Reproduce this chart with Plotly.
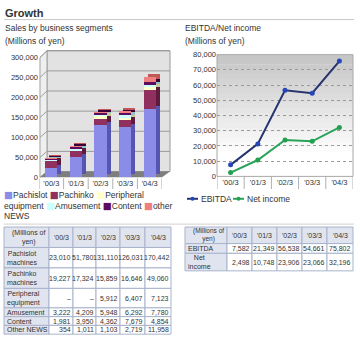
import plotly.graph_objects as go

W, H = 360, 345
def X(p): return p / W
def Y(p): return 1 - p / H

# ---------------- data ----------------
years = ["'00/3", "'01/3", "'02/3", "'03/3", "'04/3"]
seg_names = ["Pachislot", "Pachinko", "Peripheral equipment", "Amusement", "Content", "other NEWS"]
pachislot = [23010, 51780, 131110, 126031, 170442]
pachinko = [19227, 17324, 15859, 16646, 49060]
peripheral = [None, None, 5912, 6407, 7123]
amusement = [3222, 4209, 5948, 6292, 7780]
content = [1981, 3950, 4362, 7679, 4854]
other_news = [354, 1011, 1103, 2719, 11958]
ebitda = [7582, 21349, 56538, 54661, 75802]
net_income = [2498, 10748, 23906, 23066, 32196]
sales_ticks = [0, 50000, 100000, 150000, 200000, 250000, 300000]
profit_ticks = [0, 10000, 20000, 30000, 40000, 50000, 60000, 70000, 80000]
sales_row_labels = ["Pachislot<br>machines", "Pachinko<br>machines", "Peripheral<br>equipment",
                    "Amusement", "Content", "Other NEWS"]
profit_row_labels = ["EBITDA", "Net<br>income"]
unit_label = "(Millions of<br>yen)"

segments = [pachislot, pachinko, peripheral, amusement, content, other_news]
seg_colors = ["#8b8be8", "#90305f", "#ffffcc", "#ccffff", "#5c0c5c", "#f08080"]
seg_side = ["#5656b0", "#5e1b3d", "#c8c89a", "#92c4c4", "#3a003a", "#c05858"]

FONT = "Liberation Sans"
TXT = "#333333"

fig = go.Figure()

def nz(a):
    return [0 if v is None else v for v in a]

# back copies (depth) of the bars
for name, vals, col in zip(seg_names, segments, seg_side):
    fig.add_trace(go.Bar(x=years, y=nz(vals), name=name, marker=dict(color=col, line=dict(width=0)),
                         xaxis="x", yaxis="y", showlegend=False, hoverinfo="skip"))
# front faces
for name, vals, col in zip(seg_names, segments, seg_colors):
    fig.add_trace(go.Bar(x=years, y=nz(vals), name=name, marker=dict(color=col, line=dict(width=0)),
                         xaxis="x3", yaxis="y3", showlegend=False))

# line chart
fig.add_trace(go.Scatter(x=years, y=ebitda, name="EBITDA", mode="lines+markers",
                         line=dict(color="#26346e", width=2), marker=dict(color="#2446b8", size=5),
                         xaxis="x2", yaxis="y2", showlegend=False))
fig.add_trace(go.Scatter(x=years, y=net_income, name="Net income", mode="lines+markers",
                         line=dict(color="#2aa35a", width=2), marker=dict(color="#22a050", size=5),
                         xaxis="x2", yaxis="y2", showlegend=False))

shapes = []
ann = []

def rect(x0, y0, x1, y1, fill, line="rgba(0,0,0,0)", lw=0, layer="below"):
    shapes.append(dict(type="rect", xref="paper", yref="paper", x0=X(x0), x1=X(x1), y0=Y(y1), y1=Y(y0),
                       fillcolor=fill, line=dict(color=line, width=lw), layer=layer))

def hline(x0, x1, y, color, w=1, layer="below", dash="solid"):
    shapes.append(dict(type="line", xref="paper", yref="paper", x0=X(x0), x1=X(x1), y0=Y(y), y1=Y(y),
                       line=dict(color=color, width=w, dash=dash), layer=layer))

def poly(pts, fill, line="rgba(0,0,0,0)", lw=0):
    d = "M " + " L ".join(f"{X(a):.5f},{Y(b):.5f}" for a, b in pts) + " Z"
    shapes.append(dict(type="path", xref="paper", yref="paper", path=d, fillcolor=fill,
                       line=dict(color=line, width=lw), layer="below"))

def text(x, y, s, size=8, anchor="left", bold=False, color=TXT):
    if bold:
        s = f"<b>{s}</b>"
    ann.append(dict(xref="paper", yref="paper", x=X(x), y=Y(y), text=s, showarrow=False,
                    xanchor=anchor, yanchor="middle", font=dict(size=size, color=color, family=FONT),
                    borderpad=0))

# ---------- headings ----------
text(4, 9, "Growth", size=11, bold=True)
hline(4, 354, 16, "#c8c8c8")
text(4, 25, "Sales by business segments", size=8.5)
text(4, 38, "(Millions of yen)", size=8.5)
text(184, 25, "EBITDA/Net income", size=8.5)
text(184, 38, "(Millions of yen)", size=8.5)
hline(4, 354, 226, "#d0d0d0")

# ---------- left 3D chart decoration ----------
FB, FT = 178, 55     # front bottom/top
BB, BT = 172, 48     # back wall bottom/top
FL, BL, BR = 40, 47, 170
rect(BL, BT, BR, BB, "#e2e2e2", "#9a9a9a", 1)
poly([(FL, FB), (FL, FT), (BL, BT), (BL, BB)], "#efefef", "#a0a0a0", 1)
for v in sales_ticks[1:]:
    f = FB - v / 300000 * (FB - FT)
    b = BB - v / 300000 * (BB - BT)
    hline(BL, BR, b, "#9a9a9a")
    shapes.append(dict(type="line", xref="paper", yref="paper", x0=X(FL), y0=Y(f), x1=X(BL), y1=Y(b),
                       line=dict(color="#a0a0a0", width=1), layer="below"))
poly([(FL, FB), (162, FB), (BR, BB), (BL, BB)], "#7e7e7e")

# category separators below axes
for i in range(len(years) + 1):
    shapes.append(dict(type="line", xref="x3", yref="paper", x0=i - 0.5, x1=i - 0.5, y0=Y(179), y1=Y(190),
                       line=dict(color="#b0b0b0", width=1)))
    shapes.append(dict(type="line", xref="x2", yref="paper", x0=i - 0.5, x1=i - 0.5, y0=Y(177), y1=Y(190),
                       line=dict(color="#b0b0b0", width=1)))

# ---------- right chart background gradient ----------
PT, PB, PL, PR = 52, 177, 217, 353
n = 25
for k in range(n):
    y0 = PT + (PB - PT) * k / n
    y1 = PT + (PB - PT) * (k + 1) / n
    t = min(1.0, k / (n * 0.8))
    g = int(198 + (255 - 198) * t)
    rect(PL, y0, PR, y1 + 0.5, f"rgb({g},{g},{g})")
shapes.append(dict(type="rect", xref="paper", yref="paper", x0=X(PL), x1=X(PR), y0=Y(PB), y1=Y(PT),
                   line=dict(color="#a8a8a8", width=1), fillcolor="rgba(0,0,0,0)", layer="above"))

# ---------- legends ----------
def sq(i):
    return (f'<span style="color:{seg_colors[i]};font-family:DejaVu Sans;font-size:9.5px">■</span>')
w2 = seg_names[2].split(" ", 1)
w5 = seg_names[5].split(" ", 1)
text(3, 196, f"{sq(0)}{seg_names[0]} {sq(1)}{seg_names[1]} {sq(2)}{w2[0]}", size=8.5)
text(3, 207, f"{w2[1]} {sq(3)}{seg_names[3]} {sq(4)}{seg_names[4]} {sq(5)}{w5[0]}", size=8.5)
text(3, 218, w5[1], size=8.5)

for (x0, nm, lc, mc) in [(187, "EBITDA", "#26346e", "#2446b8"), (233, "Net income", "#2aa35a", "#22a050")]:
    shapes.append(dict(type="line", xref="paper", yref="paper", x0=X(x0), x1=X(x0 + 11), y0=Y(200), y1=Y(200),
                       line=dict(color=lc, width=2)))
    shapes.append(dict(type="circle", xref="paper", yref="paper", x0=X(x0 + 3.5), x1=X(x0 + 7.5),
                       y0=Y(202), y1=Y(198), fillcolor=mc, line=dict(color=mc, width=0)))
    text(x0 + 13, 200, nm, size=8.5)

# ---------- tables ----------
HDR = "#e0e4ef"
BRD = "#a9b3cc"
def fmt(v):
    return "–" if v is None else f"{v:,}"

def table(cols, rows, labels, series, hsize=7):
    for r in range(len(rows) - 1):
        for c in range(len(cols) - 1):
            fill = HDR if (r == 0 or c == 0) else "#ffffff"
            rect(cols[c], rows[r], cols[c + 1], rows[r + 1], fill, BRD, 1, layer="above")
    ymid = (rows[0] + rows[1]) / 2
    text(cols[1] - 2, ymid, unit_label, size=hsize, anchor="right")
    for c, yr in enumerate(years):
        text((cols[c + 1] + cols[c + 2]) / 2, ymid, yr, size=7, anchor="center")
    for r, (lab, vals) in enumerate(zip(labels, series)):
        ym = (rows[r + 1] + rows[r + 2]) / 2
        text(cols[0] + 2, ym, lab, size=7)
        for c, v in enumerate(vals):
            text(cols[c + 2] - 1.5, ym, fmt(v), size=7, anchor="right")

table([4, 49, 73, 96, 120, 145, 171], [229, 250, 271, 292, 312, 321, 330, 339],
      sales_row_labels, segments)
table([185, 227, 252, 277, 302, 327, 353], [229, 246, 256, 274],
      profit_row_labels, [ebitda, net_income], hsize=6.5)

tf = dict(size=7.5, color=TXT, family=FONT)
fig.update_layout(
    width=W, height=H, margin=dict(l=0, r=0, t=0, b=0),
    paper_bgcolor="white", plot_bgcolor="rgba(0,0,0,0)",
    barmode="stack", bargap=0.5, showlegend=False,
    font=dict(family=FONT, size=8, color=TXT),
    xaxis=dict(domain=[X(43), X(166)], visible=False, type="category", categoryarray=years,
               range=[-0.5, 4.5], fixedrange=True),
    yaxis=dict(domain=[Y(175), Y(52)], visible=False, range=[0, 300000], fixedrange=True),
    xaxis3=dict(domain=[X(39), X(162)], anchor="y3", type="category", categoryarray=years,
                range=[-0.5, 4.5], showgrid=False, showline=False, zeroline=False, ticks="",
                tickfont=tf),
    yaxis3=dict(domain=[Y(178), Y(55)], anchor="x3", range=[0, 300000], tickvals=sales_ticks,
                tickformat=",", showgrid=False, zeroline=False, showline=False, ticks="", tickfont=tf),
    xaxis2=dict(domain=[X(PL), X(PR)], anchor="y2", type="category", categoryarray=years,
                range=[-0.5, 4.5], showgrid=False, showline=False, zeroline=False, ticks="",
                tickfont=tf),
    yaxis2=dict(domain=[Y(PB), Y(PT)], anchor="x2", range=[0, 80000], tickvals=profit_ticks,
                tickformat=",", showgrid=True, gridcolor="#9a9a9a", griddash="dot", gridwidth=1,
                zeroline=False, showline=False, ticks="", tickfont=tf),
    shapes=shapes, annotations=ann,
)

fig.write_html("out.html")
